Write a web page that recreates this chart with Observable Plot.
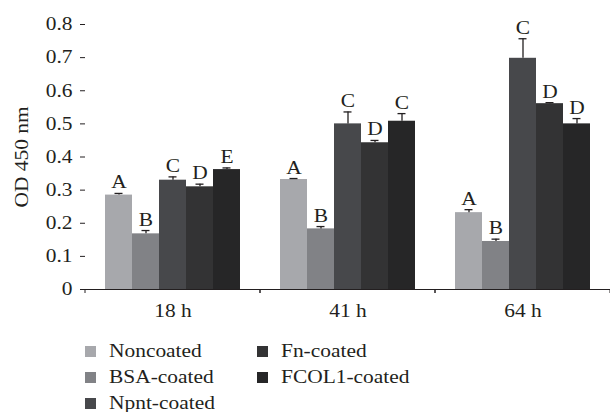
<!DOCTYPE html>
<html><head><meta charset="utf-8">
<script src="https://cdn.jsdelivr.net/npm/d3@7"></script>
<script src="https://cdn.jsdelivr.net/npm/@observablehq/plot@0.6"></script>
<style>
html,body{margin:0;padding:0;background:#fff;overflow:hidden;width:610px;height:412px;}
#chart svg{display:block;}
.legend{display:grid;grid-auto-flow:column;grid-template-rows:repeat(3,26px);grid-template-columns:172px 220px;margin-left:85px;margin-top:6px;font-family:"Liberation Serif",serif;font-size:18px;color:#231f20;}
.item{display:flex;align-items:center;white-space:nowrap;}
.sw{width:11px;height:11px;margin-right:13px;flex:none;}
.lt{display:inline-block;transform:scaleX(1.19);transform-origin:left center;}
</style></head><body><div id="chart"></div><div class="legend" id="legend"></div>
<script>
const groups = ["18 h", "41 h", "64 h"];
const series = ["Noncoated", "BSA-coated", "Npnt-coated", "Fn-coated", "FCOL1-coated"];
const colors = ["#a7a8ac", "#818286", "#47484b", "#333334", "#262627"];
const yTicks = [0, 0.1, 0.2, 0.3, 0.4, 0.5, 0.6, 0.7, 0.8];

// values per series across groups (18 h, 41 h, 64 h)
const noncoated = [0.285, 0.332, 0.232];
const bsaCoated = [0.168, 0.183, 0.145];
const npntCoated = [0.330, 0.500, 0.698];
const fnCoated = [0.310, 0.443, 0.561];
const fcol1Coated = [0.362, 0.508, 0.500];

// error (SD) per series across groups
const noncoatedErr = [0.005, 0.003, 0.009];
const bsaCoatedErr = [0.010, 0.007, 0.007];
const npntCoatedErr = [0.010, 0.036, 0.059];
const fnCoatedErr = [0.008, 0.007, 0.003];
const fcol1CoatedErr = [0.005, 0.023, 0.016];

// significance letters per group, in series order
const letters18 = ["A", "B", "C", "D", "E"];
const letters41 = ["A", "B", "C", "D", "C"];
const letters64 = ["A", "B", "C", "D", "D"];

const values = [noncoated, bsaCoated, npntCoated, fnCoated, fcol1Coated];
const errs = [noncoatedErr, bsaCoatedErr, npntCoatedErr, fnCoatedErr, fcol1CoatedErr];
const letters = [letters18, letters41, letters64];

const rows = [];
series.forEach((s, i) => groups.forEach((g, j) => rows.push({
  group: g, series: s, value: values[i][j], err: errs[i][j], top: values[i][j] + errs[i][j], letter: letters[j][i]
})));

const ink = "#231f20";

const boundaryTicks = (index, scales, values, dims) => {
  const g = d3.create("svg:g");
  const yb = dims.height - dims.marginBottom;
  for (const x of [dims.marginLeft, dims.width - dims.marginRight]) {
    g.append("line").attr("x1", x).attr("x2", x).attr("y1", yb).attr("y2", yb + 4).attr("stroke", ink);
  }
  return g.node();
};

const chart = Plot.plot({
  width: 610, height: 332,
  marginLeft: 85, marginRight: 0, marginTop: 24, marginBottom: 43,
  style: {fontFamily: '"Liberation Serif", serif', fontSize: "18px", color: ink, background: "white", overflow: "visible"},
  fx: {domain: groups, padding: 0, label: null},
  x: {domain: series, paddingInner: 0, paddingOuter: 0.74, axis: null},
  y: {domain: [0, 0.8], label: null},
  color: {domain: series, range: colors},
  marks: [
    Plot.barY(rows, {fx: "group", x: "series", y: "value", fill: "series"}),
    Plot.ruleX(rows, {fx: "group", x: "series", y1: "value", y2: "top", stroke: ink, strokeWidth: 1.3}),
    Plot.tickY(rows, {fx: "group", x: "series", y: "top", stroke: ink, strokeWidth: 1.3, insetLeft: 9.5, insetRight: 9.5}),
    Plot.text(rows, {fx: "group", x: "series", y: "top", text: "letter", lineAnchor: "bottom", dy: -5, fontSize: 18, fill: ink}),
    Plot.ruleY([0], {stroke: ink, strokeWidth: 1}),
    boundaryTicks,
    Plot.axisY({ticks: yTicks, tickSize: 5, tickPadding: 8, tickFormat: d => d === 0 ? "0" : d.toFixed(1), fontSize: 18, line: true, stroke: ink,
      label: "OD 450 nm", labelAnchor: "center", labelOffset: 70, labelArrow: "none"}),
    Plot.axisFx({anchor: "bottom", tickSize: 0, tickPadding: 15, fontSize: 18, label: null})
  ]
});
document.getElementById("chart").appendChild(chart);

// the reference typeface is wider than Liberation Serif: stretch glyphs horizontally
chart.querySelectorAll("text").forEach(el => {
  const len = el.getComputedTextLength();
  if (len > 0) {
    el.setAttribute("textLength", (len * 1.19).toFixed(2));
    el.setAttribute("lengthAdjust", "spacingAndGlyphs");
  }
});

const legend = document.getElementById("legend");
series.forEach((s, i) => {
  const item = document.createElement("div");
  item.className = "item";
  const sw = document.createElement("span");
  sw.className = "sw";
  sw.style.background = colors[i];
  const t = document.createElement("span");
  t.className = "lt";
  t.textContent = s;
  item.appendChild(sw); item.appendChild(t);
  legend.appendChild(item);
});
</script></body></html>
